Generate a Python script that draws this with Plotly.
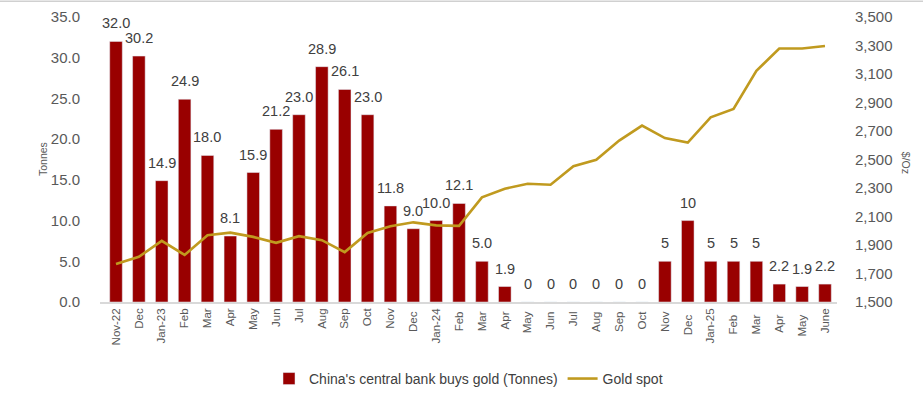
import plotly.graph_objects as go

months = ["Nov-22", "Dec", "Jan-23", "Feb", "Mar", "Apr", "May", "Jun", "Jul", "Aug", "Sep", "Oct",
          "Nov", "Dec ", "Jan-24", "Feb ", "Mar ", "Apr ", "May ", "Jun ", "Jul ", "Aug ", "Sep ", "Oct ",
          "Nov ", "Dec  ", "Jan-25", "Feb  ", "Mar  ", "Apr  ", "May  ", "June"]
tonnes = [32.0, 30.2, 14.9, 24.9, 18.0, 8.1, 15.9, 21.2, 23.0, 28.9, 26.1, 23.0,
          11.8, 9.0, 10.0, 12.1, 5.0, 1.9, 0, 0, 0, 0, 0, 0,
          5, 10, 5, 5, 5, 2.2, 1.9, 2.2]
tonne_labels = ["32.0", "30.2", "14.9", "24.9", "18.0", "8.1", "15.9", "21.2", "23.0", "28.9", "26.1", "23.0",
                "11.8", "9.0", "10.0", "12.1", "5.0", "1.9", "0", "0", "0", "0", "0", "0",
                "5", "10", "5", "5", "5", "2.2", "1.9", "2.2"]
gold_spot = [1766, 1817, 1929, 1830, 1969, 1987, 1957, 1915, 1962, 1934, 1850, 1985,
             2031, 2059, 2038, 2034, 2234, 2295, 2330, 2323, 2453, 2498, 2633, 2738,
             2650, 2619, 2796, 2855, 3122, 3279, 3279, 3297]

left_ticks = [0, 5, 10, 15, 20, 25, 30, 35]
right_ticks = [1500, 1700, 1900, 2100, 2300, 2500, 2700, 2900, 3100, 3300, 3500]

FONT = "Liberation Sans, Arial, sans-serif"
BAR = "#990000"
GOLD = "#C09A1F"
TXT = "#595959"

fig = go.Figure()
fig.add_trace(go.Bar(
    x=months, y=tonnes, name="China's central bank buys gold (Tonnes)",
    marker=dict(color=BAR), yaxis="y", showlegend=True,
))
fig.add_trace(go.Scatter(
    x=months, y=gold_spot, name="Gold spot", mode="lines",
    line=dict(color=GOLD, width=2.6), yaxis="y2",
))

annotations = []
for m, v, t in zip(months, tonnes, tonne_labels):
    annotations.append(dict(x=m, y=v, xref="x", yref="y", text=t, showarrow=False,
                            yshift=18, font=dict(family=FONT, size=14.5, color="#404040")))
annotations.append(dict(x=-0.078, y=0.5, xref="paper", yref="paper", text="Tonnes",
                        xanchor="center", yanchor="middle",
                        textangle=-90, showarrow=False, font=dict(family=FONT, size=10.5, color=TXT)))
annotations.append(dict(x=1.093, y=0.49, xref="paper", yref="paper", text="$/Oz",
                        xanchor="center", yanchor="middle",
                        textangle=90, showarrow=False, font=dict(family=FONT, size=10.5, color=TXT)))

fig.update_layout(
    width=923, height=398,
    margin=dict(l=100, r=86, t=17, b=96, autoexpand=False),
    paper_bgcolor="white", plot_bgcolor="white",
    font=dict(family=FONT, color=TXT),
    bargap=0.45,
    xaxis=dict(type="category", tickangle=-90, tickfont=dict(size=11.5, color=TXT),
               showgrid=False, showline=True, linecolor="#d9d9d9", linewidth=1.5, ticks="",
               automargin=False),
    yaxis=dict(range=[0, 35], tickvals=left_ticks, tickformat=".1f", showgrid=False,
               zeroline=False, tickfont=dict(size=15, color=TXT), ticklabelstandoff=19,
               automargin=False),
    yaxis2=dict(range=[1500, 3500], tickvals=right_ticks, tickformat=",", overlaying="y",
                side="right", showgrid=False, zeroline=False,
                tickfont=dict(size=15, color=TXT), ticklabelstandoff=17, automargin=False),
    legend=dict(orientation="h", x=0.5, xanchor="center", y=-0.27, yanchor="middle",
                font=dict(family=FONT, size=14, color="#404040"), traceorder="normal",
                itemwidth=30),
    annotations=annotations,
    shapes=[dict(type="line", xref="paper", yref="paper", x0=-0.15, x1=1.15,
                 y0=1.055, y1=1.055, line=dict(color="#d0d0d0", width=1.5))],
)

fig.write_html("out.html", config={"displayModeBar": False},
               post_script="document.body.style.margin='0';document.body.style.padding='0';window.dispatchEvent(new Event('resize'));")
